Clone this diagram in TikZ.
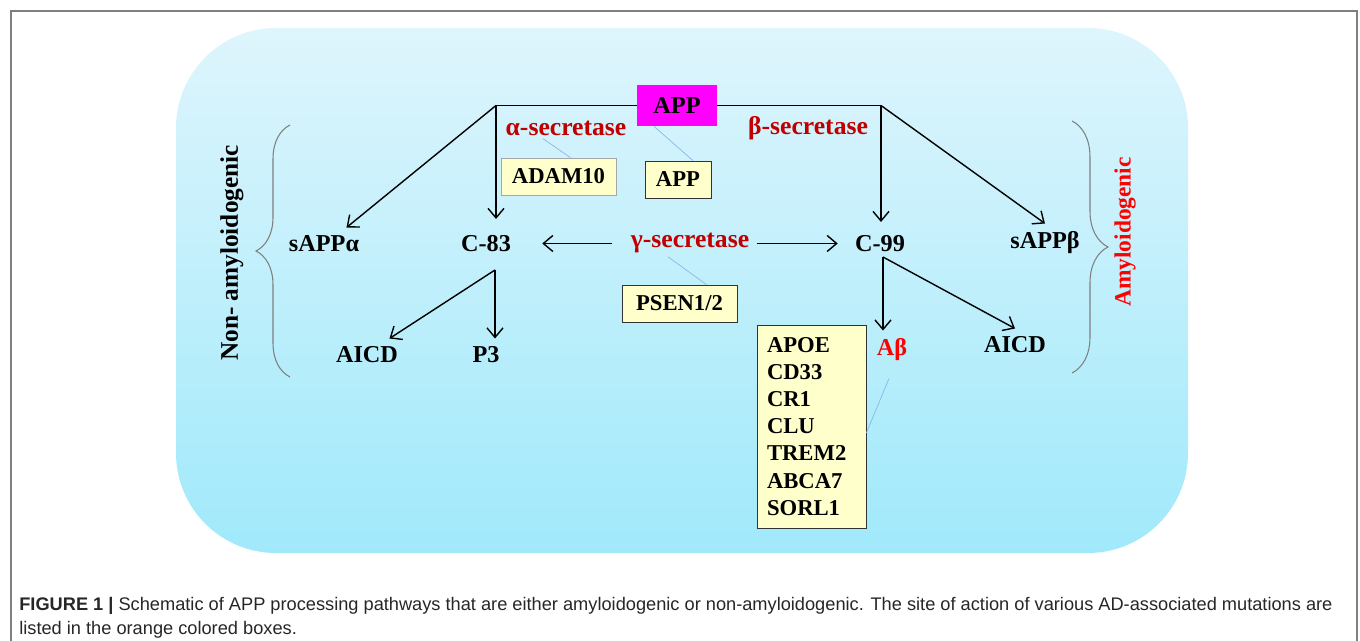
\documentclass[tikz,border=0pt]{standalone}
\usepackage{fontspec}
\setmainfont{Liberation Serif}
\newfontfamily\capfont{Liberation Sans}
\usetikzlibrary{arrows.meta,decorations.pathreplacing}
\definecolor{appmag}{HTML}{FF00FF}
\definecolor{paleyel}{HTML}{FFFFCC}
\definecolor{enzred}{HTML}{C00000}
\definecolor{hotred}{HTML}{FF0000}
\definecolor{skytop}{HTML}{DEF5FC}
\definecolor{skybot}{HTML}{A0E9FB}
\definecolor{linkblue}{HTML}{8AB8E6}
\definecolor{framegray}{HTML}{7F7F7F}
\tikzset{
  tag/.style={font=\fontsize{13.8}{16}\selectfont\bfseries,inner sep=0.16cm},
  enzyme/.style={font=\fontsize{14.6}{17}\selectfont\bfseries,text=enzred,inner sep=0.06cm},
  genebox/.style={rectangle,draw=black!80,fill=paleyel,font=\fontsize{12.9}{15.4}\selectfont\bfseries,inner sep=0pt},
  arrow/.style={-{Straight Barb[length=1.9mm,width=3.2mm]},line width=0.8pt},
  link/.style={linkblue,line width=0.4pt},
  bracket/.style={decorate,decoration={brace,amplitude=#1},framegray,line width=0.6pt}
}

\begin{document}
\begin{tikzpicture}[x=0.02cm,y=-0.02cm]
  \useasboundingbox (0,0) rectangle (1360,641);
  % frame and background
  \draw[framegray,line width=1.1pt] (11,641) -- (11,11) -- (1357,11) -- (1357,641);
  \shade[top color=skytop,bottom color=skybot,rounded corners=2cm] (176,28) rectangle (1188,553);

  % APP at the top
  \node[rectangle,fill=appmag,tag,minimum width=1.6cm,minimum height=0.82cm,inner sep=0pt] (app) at (677,105.5) {APP};
  \coordinate (asplit) at (496,105.5);
  \coordinate (bsplit) at (881,105.5);
  \draw[line width=0.8pt] (asplit) -- (app.west);
  \draw[line width=0.8pt] (app.east) -- (bsplit);

  \node[enzyme] (asec) at (566,128) {α-secretase};
  \node[enzyme] (bsec) at (808,128) {β-secretase};
  \node[enzyme] (gsec) at (690,243.5) {γ-secretase};

  \node[genebox,draw=black!35,minimum width=2.3cm,minimum height=0.74cm] (adam) at (558.5,176.5) {ADAM10};
  \node[genebox,minimum width=1.32cm,minimum height=0.74cm] (appbox) at (678,179.5) {APP};
  \node[genebox,minimum width=2.3cm,minimum height=0.74cm] (psen) at (679.5,303.5) {PSEN1/2};
  \node[genebox,minimum width=2.18cm,minimum height=4.06cm,text width=1.78cm,align=left] (genes) at (811.5,426.5)
    {APOE\\CD33\\CR1\\CLU\\TREM2\\ABCA7\\SORL1};

  % products
  \node[tag] (sappa) at (324,244) {sAPPα};
  \node[tag] (c83) at (486,243.5) {C-83};
  \node[tag] (c99) at (880,243.5) {C-99};
  \node[tag] (sappb) at (1045,243) {sAPPβ};
  \node[tag] (aicdl) at (367,355) {AICD};
  \node[tag] (p3) at (486,355) {P3};
  \node[tag,text=hotred] (abeta) at (892,350) {Aβ};
  \node[tag] (aicdr) at (1015,345) {AICD};
  \coordinate (c83foot) at (495,270);
  \coordinate (c99foot) at (883,257);

  % cleavage arrows
  \draw[arrow] (asplit) -- ([xshift=0.45cm]sappa.north);
  \draw[arrow,shorten >=0.16cm] (asplit) -- (asplit |- c83.north);
  \draw[arrow,shorten >=0.1cm] (bsplit) -- (bsplit |- c99.north);
  \draw[arrow] (bsplit) -- (sappb.north);
  \draw[arrow,shorten <=0.3cm,shorten >=0.46cm] (gsec.west) -- (gsec.west -| c83.east);
  \draw[arrow,shorten <=0.08cm,shorten >=0.18cm] (gsec.east) -- (gsec.east -| c99.west);
  \draw[arrow] (c83foot) -- ([xshift=0.45cm]aicdl.north);
  \draw[arrow] (c83foot) -- (c83foot |- p3.north);
  \draw[arrow] (c99foot) -- (c99foot |- abeta.north);
  \draw[arrow] (c99foot) -- (aicdr.north);

  % thin links to the mutation boxes
  \draw[link] ([xshift=-0.46cm]asec.south) -- ([xshift=0.24cm]adam.north);
  \draw[link] ([xshift=-0.46cm]app.south) -- ([xshift=0.3cm]appbox.north);
  \draw[link] ([xshift=-0.44cm]gsec.south) -- ([xshift=0.54cm]psen.north);
  \draw[link] ([xshift=-0.06cm,yshift=-0.18cm]abeta.south) -- ([yshift=-0.13cm]genes.east);

  % pathway brackets
  \draw[bracket=0.68cm] (290,377) -- (290,125);
  \draw[bracket=0.72cm] (1072,121) -- (1072,373);
  \node[rotate=90,font=\fontsize{14.4}{17}\selectfont\bfseries] (nonamy) at (232,253) {Non- amyloidogenic};
  \node[rotate=90,text=hotred,font=\fontsize{13.3}{16}\selectfont\bfseries] (amy) at (1125,232) {Amyloidogenic};

  % caption
  \node[anchor=north west,align=left,inner sep=0pt,text=black!85,font=\capfont\fontsize{10.37}{13.8}\selectfont] (caption) at (19,597)
    {\textbf{FIGURE 1 |} Schematic of APP processing pathways that are either amyloidogenic or non-amyloidogenic. The site of action of various AD-associated mutations are\\
     listed in the orange colored boxes.};
\end{tikzpicture}
\end{document}
